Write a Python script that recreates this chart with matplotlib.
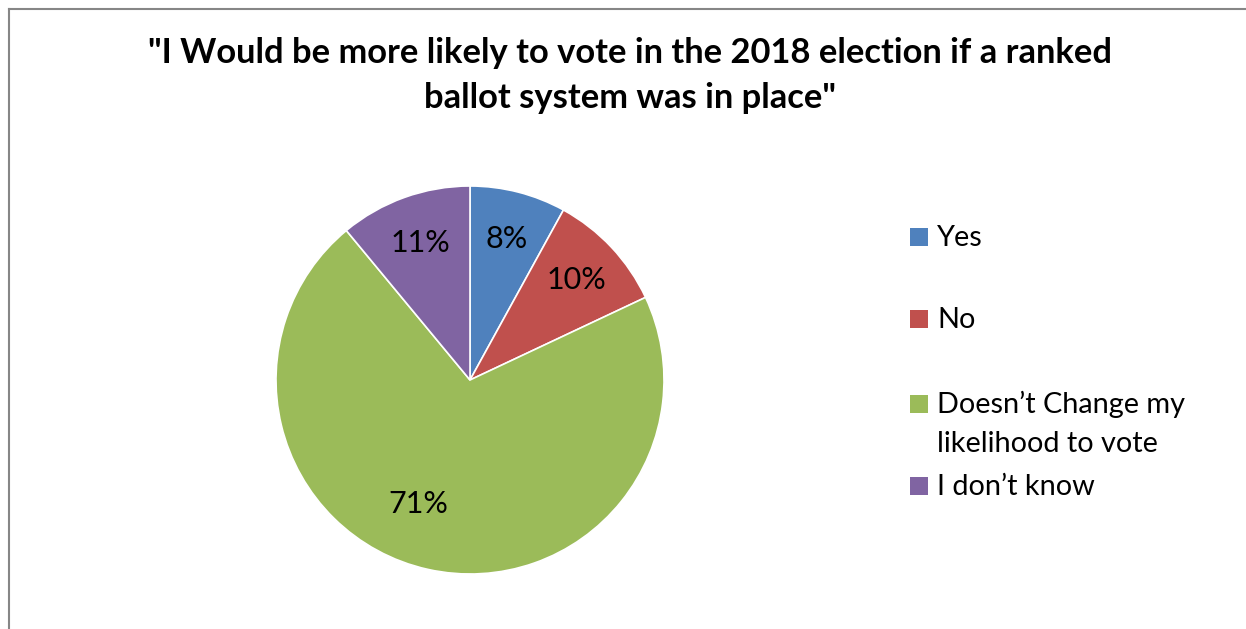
import matplotlib.pyplot as plt
from matplotlib.patches import Rectangle
from matplotlib.lines import Line2D
import numpy as np

labels = ['Yes', 'No', 'Doesn\u2019t Change my\nlikelihood to vote', 'I don\u2019t know']
values = [8, 10, 71, 11]
colors = ['#4F81BD', '#C0504D', '#9BBB59', '#8064A2']
title = '"I Would be more likely to vote in the 2018 election if a ranked\nballot system was in place"'

W, H = 1246, 629
plt.rcParams['font.family'] = ['Lato', 'DejaVu Sans']
fig = plt.figure(figsize=(W / 100, H / 100), dpi=100)

# pie centre (470, 380) px, radius 194 px
cx, cy, r = 470, 380, 194
ax = fig.add_axes([(cx - r) / W, 1 - (cy + r) / H, 2 * r / W, 2 * r / H])
wedges, _, autotexts = ax.pie(values, colors=colors, startangle=90, counterclock=False,
                              autopct='%1.0f%%', pctdistance=0.75,
                              wedgeprops=dict(edgecolor='white', linewidth=1.2),
                              textprops=dict(fontsize=22, color='black'))
# Excel puts the big slice's label a bit further round and inward
t = autotexts[2]
ang = np.deg2rad((wedges[2].theta1 + wedges[2].theta2) / 2 - 10)
t.set_position((0.69 * np.cos(ang), 0.69 * np.sin(ang)))
ax.set_xlim(-1, 1)
ax.set_ylim(-1, 1)
ax.set_aspect('equal')

# title
lines = title.split('\n')
for line, base in zip(lines, [63, 108]):
    fig.text(630 / W, 1 - base / H, line, ha='center', va='baseline',
             fontsize=24.8, fontweight='bold')

# legend (Excel-style spacing)
baselines = [246, 328, 413, 495]
for lab, col, base in zip(labels, colors, baselines):
    fig.patches.append(Rectangle((910 / W, 1 - base / H), 18 / W, 18 / H,
                                 transform=fig.transFigure, facecolor=col,
                                 edgecolor='none'))
    for i, part in enumerate(lab.split('\n')):
        fig.text(937 / W, 1 - (base + 39 * i) / H, part, ha='left', va='baseline',
                 fontsize=20.8)

# chart border
fig.add_artist(Line2D([9 / W, 9 / W], [0, 1 - 9 / H], color='#868686', lw=1.5,
                      transform=fig.transFigure))
fig.add_artist(Line2D([9 / W, 1], [1 - 9 / H, 1 - 9 / H], color='#868686', lw=1.5,
                      transform=fig.transFigure))

fig.savefig('out.png', dpi=100)
